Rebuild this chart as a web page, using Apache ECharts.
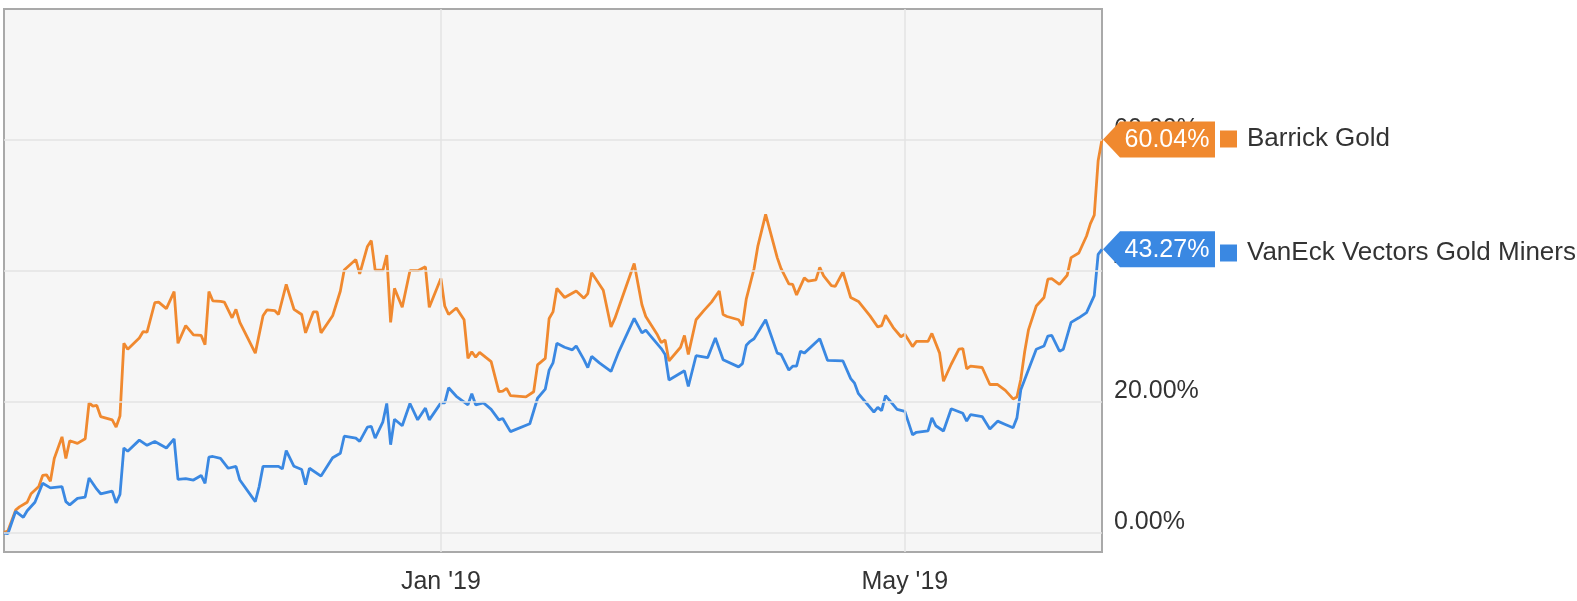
<!DOCTYPE html>
<html>
<head>
<meta charset="utf-8">
<script src="https://cdn.jsdelivr.net/npm/echarts@6/dist/echarts.min.js"></script>
<style>
html,body{margin:0;padding:0;background:#fff;}
#chart{width:1577px;height:601px;}
</style>
</head>
<body>
<div id="chart"></div>
<script>
// ---- data ----
const orangeName = 'Barrick Gold';
const blueName = 'VanEck Vectors Gold Miners';

const orangeDates = ['2018-09-10','2018-09-11','2018-09-13','2018-09-14','2018-09-16','2018-09-17','2018-09-19','2018-09-20','2018-09-21','2018-09-22','2018-09-23','2018-09-25','2018-09-26','2018-09-27','2018-09-29','2018-10-01','2018-10-02','2018-10-03','2018-10-04','2018-10-05','2018-10-08','2018-10-09','2018-10-10','2018-10-11','2018-10-12','2018-10-15','2018-10-16','2018-10-17','2018-10-19','2018-10-20','2018-10-22','2018-10-24','2018-10-25','2018-10-27','2018-10-29','2018-10-31','2018-11-01','2018-11-02','2018-11-03','2018-11-05','2018-11-06','2018-11-08','2018-11-09','2018-11-10','2018-11-14','2018-11-16','2018-11-17','2018-11-19','2018-11-20','2018-11-22','2018-11-24','2018-11-26','2018-11-27','2018-11-29','2018-11-30','2018-12-01','2018-12-04','2018-12-06','2018-12-07','2018-12-10','2018-12-11','2018-12-13','2018-12-14','2018-12-15','2018-12-17','2018-12-18','2018-12-19','2018-12-20','2018-12-22','2018-12-24','2018-12-26','2018-12-28','2018-12-29','2019-01-01','2019-01-02','2019-01-03','2019-01-05','2019-01-07','2019-01-08','2019-01-09','2019-01-10','2019-01-11','2019-01-14','2019-01-16','2019-01-17','2019-01-18','2019-01-19','2019-01-23','2019-01-25','2019-01-26','2019-01-28','2019-01-29','2019-01-30','2019-01-31','2019-02-02','2019-02-05','2019-02-07','2019-02-08','2019-02-09','2019-02-12','2019-02-14','2019-02-15','2019-02-20','2019-02-22','2019-02-23','2019-02-26','2019-02-27','2019-02-28','2019-03-01','2019-03-04','2019-03-05','2019-03-06','2019-03-08','2019-03-10','2019-03-12','2019-03-14','2019-03-15','2019-03-16','2019-03-19','2019-03-20','2019-03-21','2019-03-23','2019-03-24','2019-03-26','2019-03-29','2019-03-30','2019-04-01','2019-04-02','2019-04-03','2019-04-05','2019-04-06','2019-04-08','2019-04-09','2019-04-10','2019-04-12','2019-04-13','2019-04-15','2019-04-17','2019-04-19','2019-04-22','2019-04-24','2019-04-25','2019-04-26','2019-04-28','2019-04-30','2019-05-01','2019-05-03','2019-05-04','2019-05-07','2019-05-08','2019-05-10','2019-05-11','2019-05-13','2019-05-15','2019-05-16','2019-05-17','2019-05-18','2019-05-21','2019-05-23','2019-05-25','2019-05-27','2019-05-29','2019-05-30','2019-05-31','2019-06-01','2019-06-02','2019-06-04','2019-06-06','2019-06-07','2019-06-08','2019-06-10','2019-06-12','2019-06-13','2019-06-15','2019-06-17','2019-06-18','2019-06-19','2019-06-20','2019-06-21'];
const orangeValues = [0,0.2,3.4,3.9,4.6,5.9,7.0,8.7,8.8,7.8,11.3,14.6,11.3,14.0,13.6,14.3,19.8,19.3,19.4,17.7,17.2,16.1,17.8,28.9,28.0,29.7,30.7,30.6,35.1,35.2,34.2,36.8,28.9,31.6,30.2,30.1,28.7,36.8,35.4,35.3,35.2,32.8,34.1,32.1,27.4,33.1,34.0,33.9,33.3,37.9,34.1,33.3,30.5,33.7,33.7,30.5,33.1,36.9,40.1,41.7,39.5,43.7,44.6,40.1,40.1,42.4,32.1,37.3,34.4,40.0,40.0,40.6,34.4,38.8,34.6,33.3,34.3,32.5,26.6,27.6,26.8,27.5,26.1,21.5,21.6,22.0,20.9,20.7,21.5,25.6,26.6,32.7,33.7,37.3,35.9,36.9,35.8,36.5,39.7,37.0,31.4,32.7,41.1,34.8,33.0,30.2,29.0,29.4,26.2,28.3,30.1,27.2,32.5,33.9,35.2,36.9,33.3,33.0,32.5,31.6,35.7,40.3,43.8,48.6,42.0,40.3,38.0,37.9,36.3,38.9,38.4,38.6,40.5,39.2,37.7,37.6,39.8,35.9,35.3,33.1,31.4,31.6,33.2,31.3,29.9,30.3,28.4,29.2,29.2,30.4,27.4,23.1,25.7,28.0,28.1,25.0,25.4,25.2,22.6,22.6,21.7,20.4,20.7,23.4,27.6,31.0,34.6,35.9,38.7,38.8,37.9,39.3,42.0,42.7,45.3,47.2,48.5,56.8,60.04];

const blueDates = ['2018-09-10','2018-09-11','2018-09-13','2018-09-15','2018-09-16','2018-09-18','2018-09-20','2018-09-22','2018-09-25','2018-09-26','2018-09-27','2018-09-29','2018-10-01','2018-10-02','2018-10-04','2018-10-05','2018-10-08','2018-10-09','2018-10-10','2018-10-11','2018-10-12','2018-10-15','2018-10-17','2018-10-19','2018-10-22','2018-10-24','2018-10-25','2018-10-27','2018-10-29','2018-10-31','2018-11-01','2018-11-02','2018-11-03','2018-11-05','2018-11-07','2018-11-09','2018-11-10','2018-11-14','2018-11-15','2018-11-16','2018-11-20','2018-11-21','2018-11-22','2018-11-24','2018-11-26','2018-11-27','2018-11-28','2018-12-01','2018-12-04','2018-12-06','2018-12-07','2018-12-10','2018-12-11','2018-12-13','2018-12-14','2018-12-15','2018-12-17','2018-12-18','2018-12-19','2018-12-20','2018-12-22','2018-12-24','2018-12-26','2018-12-28','2018-12-29','2019-01-01','2019-01-02','2019-01-03','2019-01-05','2019-01-08','2019-01-09','2019-01-10','2019-01-12','2019-01-14','2019-01-16','2019-01-17','2019-01-19','2019-01-24','2019-01-26','2019-01-28','2019-01-29','2019-01-30','2019-01-31','2019-02-02','2019-02-04','2019-02-05','2019-02-07','2019-02-08','2019-02-09','2019-02-11','2019-02-14','2019-02-16','2019-02-20','2019-02-22','2019-02-23','2019-02-24','2019-02-27','2019-02-28','2019-03-01','2019-03-05','2019-03-06','2019-03-08','2019-03-11','2019-03-13','2019-03-15','2019-03-19','2019-03-20','2019-03-21','2019-03-22','2019-03-23','2019-03-26','2019-03-29','2019-03-30','2019-04-01','2019-04-02','2019-04-03','2019-04-04','2019-04-05','2019-04-09','2019-04-11','2019-04-15','2019-04-17','2019-04-18','2019-04-19','2019-04-23','2019-04-24','2019-04-25','2019-04-26','2019-04-27','2019-04-29','2019-05-01','2019-05-03','2019-05-04','2019-05-07','2019-05-08','2019-05-09','2019-05-11','2019-05-13','2019-05-16','2019-05-17','2019-05-18','2019-05-21','2019-05-23','2019-05-25','2019-05-27','2019-05-29','2019-05-30','2019-05-31','2019-06-02','2019-06-04','2019-06-06','2019-06-07','2019-06-08','2019-06-10','2019-06-11','2019-06-13','2019-06-15','2019-06-17','2019-06-19','2019-06-20','2019-06-21'];
const blueValues = [-0.1,-0.2,3.2,2.3,3.3,4.6,7.5,6.8,7.0,4.7,4.2,5.2,5.4,8.3,6.6,5.9,6.3,4.5,5.8,12.9,12.4,14.1,13.3,13.9,12.9,14.3,8.1,8.2,8.0,8.7,7.5,11.5,11.6,11.3,9.8,10.1,8.0,4.7,7.0,10.1,10.1,9.7,12.5,10.1,9.6,7.3,9.8,8.6,11.4,12.1,14.7,14.4,13.9,16.1,16.2,14.4,16.9,19.7,13.4,17.3,16.3,19.7,17.2,19.0,17.2,19.8,19.8,22.1,20.8,19.5,21.2,19.5,19.8,18.8,17.2,17.4,15.4,16.6,20.5,21.9,24.8,25.9,28.9,28.3,27.9,28.5,26.4,25.2,26.9,25.9,24.6,27.6,32.7,30.5,30.9,30.2,28.1,27.2,23.3,24.7,22.3,27.0,26.7,29.7,26.4,25.3,25.8,28.6,29.2,29.6,32.5,27.4,27.2,24.8,25.4,25.4,27.7,27.4,29.6,26.3,26.2,23.5,22.8,21.2,18.4,19.1,18.6,20.9,20.2,18.8,18.5,14.9,15.3,15.5,17.5,16.3,15.5,18.9,18.2,17.0,18.0,17.7,15.8,17.0,16.5,16.0,17.5,21.8,24.9,28.0,28.5,30.0,30.1,27.7,28.0,32.1,32.8,33.6,36.2,42.5,43.27];

const xRange = ['2018-09-10', '2019-06-21'];
const xTickDates = ['2019-01-01', '2019-05-01'];
const xTickLabels = ["Jan '19", "May '19"];
const yTickValues = [0, 20, 40, 60];
const yTickLabels = ['0.00%', '20.00%', '40.00%', '60.00%'];
const yRange = [-3, 80];

// ---- styles ----
const ORANGE = '#f0892f';
const BLUE = '#3a88e2';
const FONT = 'Liberation Sans, Arial, sans-serif';
const BADGE = 'path://M0,18 L17,0 L112,0 L112,36 L17,36 Z';

// dates -> timestamps (x axis is a linear scale of time)
const ts = d => echarts.number.parseDate(d).getTime();
const xTickTs = xTickDates.map(ts);

function pairs(dates, vals) { return dates.map((d, i) => [ts(d), vals[i]]); }

function badge(dates, vals, color) {
  const n = vals.length - 1;
  return {
    silent: true,
    symbol: BADGE,
    symbolSize: [112, 36],
    symbolOffset: [57, 0],
    itemStyle: { color: color },
    label: {
      show: true, color: '#fff', fontSize: 25, fontFamily: FONT,
      offset: [8, 1],
      formatter: p => p.value.toFixed(2) + '%'
    },
    data: [{ coord: [ts(dates[n]), vals[n]], value: vals[n] }]
  };
}

const chart = echarts.init(document.getElementById('chart'), null, { renderer: 'canvas' });
chart.setOption({
  animation: false,
  backgroundColor: '#fff',
  grid: {
    show: true, left: 4, top: 9, width: 1098, height: 543,
    outerBoundsMode: 'none', containLabel: false,
    backgroundColor: '#f6f6f6', borderColor: '#a9a9a9', borderWidth: 2
  },
  legend: {
    data: [orangeName, blueName],
    orient: 'vertical', left: 1220, top: 126, padding: 0,
    itemWidth: 17, itemHeight: 17, itemGap: 88, icon: 'rect',
    selectedMode: false,
    textStyle: { fontSize: 26, color: '#333', fontFamily: FONT, padding: [0, 0, 0, 5] }
  },
  xAxis: {
    type: 'value', min: ts(xRange[0]), max: ts(xRange[1]),
    axisLine: { show: false }, axisTick: { show: false },
    splitLine: { show: false },
    axisLabel: {
      customValues: xTickTs, margin: 18, fontSize: 25, color: '#333', fontFamily: FONT,
      formatter: v => { const i = xTickTs.indexOf(v); return i >= 0 ? xTickLabels[i] : ''; }
    }
  },
  yAxis: {
    type: 'value', position: 'right', min: yRange[0], max: yRange[1],
    axisLine: { show: false }, axisTick: { show: false },
    splitLine: { show: false },
    axisLabel: {
      customValues: yTickValues, margin: 12, fontSize: 25, color: '#333', fontFamily: FONT,
      verticalAlign: 'bottom', lineHeight: 21,
      formatter: v => { const i = yTickValues.indexOf(v); return i >= 0 ? yTickLabels[i] : ''; }
    }
  },
  series: [
    {
      name: 'grid', type: 'line', data: [], z: 1, silent: true,
      markLine: {
        silent: true, symbol: 'none', label: { show: false },
        lineStyle: { color: '#e3e3e3', width: 1.5, type: 'solid' },
        data: yTickValues.map(v => ({ yAxis: v })).concat(xTickTs.map(t => ({ xAxis: t })))
      }
    },
    {
      name: orangeName, type: 'line', data: pairs(orangeDates, orangeValues),
      showSymbol: false, symbol: 'none', z: 3,
      lineStyle: { color: ORANGE, width: 2.8 }, itemStyle: { color: ORANGE },
      markPoint: badge(orangeDates, orangeValues, ORANGE)
    },
    {
      name: blueName, type: 'line', data: pairs(blueDates, blueValues),
      showSymbol: false, symbol: 'none', z: 4,
      lineStyle: { color: BLUE, width: 2.8 }, itemStyle: { color: BLUE },
      markPoint: badge(blueDates, blueValues, BLUE)
    }
  ]
});
</script>
</body>
</html>
